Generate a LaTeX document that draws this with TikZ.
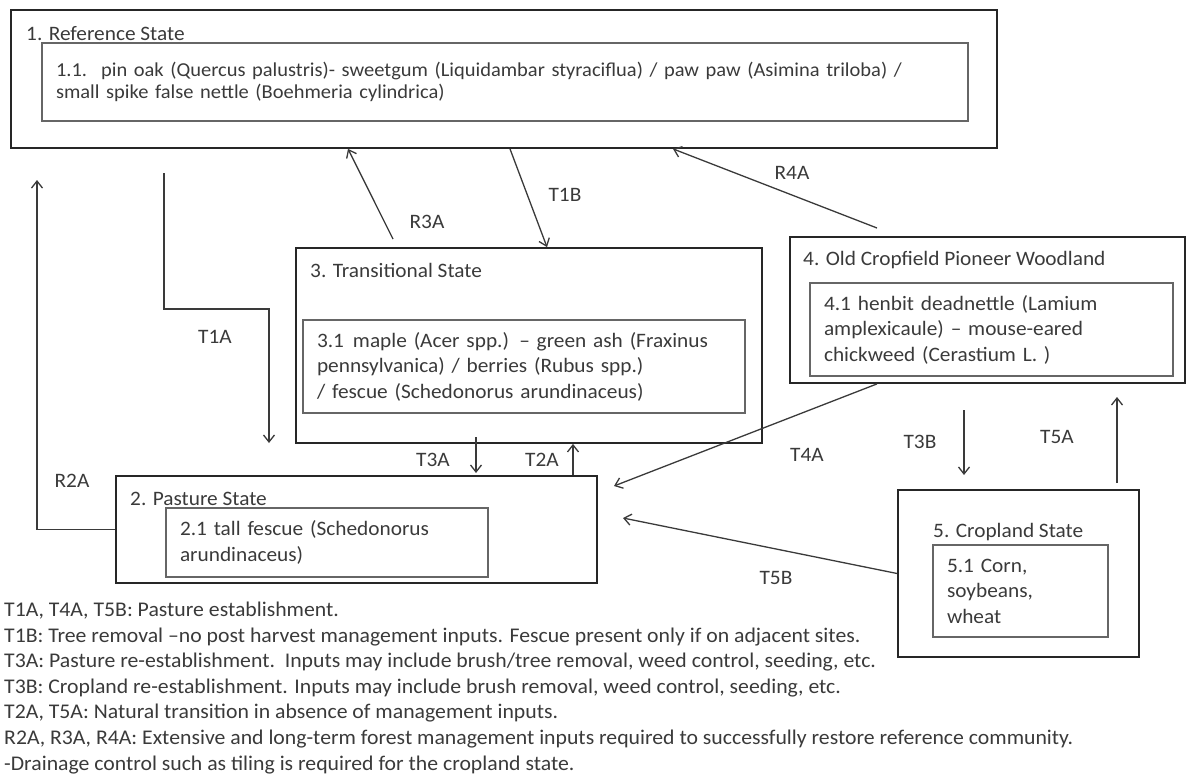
\documentclass[tikz,border=0pt]{standalone}
\usepackage{fontspec}
\setmainfont{Carlito}[FakeStretch=1.04]
\usepackage{tikz}
\usetikzlibrary{arrows.meta,positioning,calc}
\definecolor{ink}{HTML}{3A3A3A}
\newcommand{\txt}{\fontsize{20.5}{25.5}\selectfont}
\tikzset{
  outer/.style={draw=black!85, line width=1.8pt, inner sep=0pt},
  inner/.style={draw=black!60, line width=1.4pt, inner xsep=14pt, inner ysep=0pt,
    align=left, text=ink, font=\txt},
  ttl/.style={text=ink, font=\txt, inner sep=0pt, anchor=base west},
  lbl/.style={text=ink, font=\txt, inner sep=0pt},
  flow/.style={-{Straight Barb[length=7pt,width=11pt]}, line width=1.3pt, draw=ink}
}

\begin{document}
\begin{tikzpicture}[x=1pt, y=-1pt]
  \useasboundingbox (0,0) rectangle (1189,779);

  % states
  \node[outer, minimum width=986pt, minimum height=138pt] (ref) at (504,79) {};
  \node[ttl] (refT) at (26,40) {1. Reference State};
  \node[inner, text width=898pt, minimum height=78pt, font=\fontsize{19.7}{22.5}\selectfont] (refC) at (505,82)
    {1.1.\hspace{14pt}pin oak (Quercus palustris)- sweetgum (Liquidambar styraciflua) / paw paw (Asimina triloba) /\\small spike false nettle (Boehmeria cylindrica)};

  \node[outer, minimum width=466pt, minimum height=195pt] (trans) at (529,345.5) {};
  \node[ttl] (transT) at (310,277) {3. Transitional State};
  \node[inner, text width=414pt, minimum height=93pt] (transC) at (524,366.5)
    {3.1\hspace{9pt}maple (Acer spp.) -- green ash (Fraxinus\\pennsylvanica) / berries (Rubus spp.)\\/ fescue (Schedonorus arundinaceus)};

  \node[outer, minimum width=395pt, minimum height=146pt] (old) at (987.5,310) {};
  \node[ttl] (oldT) at (803,265) {4. Old Cropfield Pioneer Woodland};
  \node[inner, text width=335pt, minimum height=93pt] (oldC) at (991.5,329.5)
    {4.1 henbit deadnettle (Lamium\\amplexicaule) -- mouse-eared\\chickweed (Cerastium L. )};

  \node[outer, minimum width=481pt, minimum height=107pt] (past) at (356.5,529.5) {};
  \node[ttl] (pastT) at (130,505) {2. Pasture State};
  \node[inner, text width=294pt, minimum height=69pt] (pastC) at (327,542.5)
    {2.1 tall fescue (Schedonorus\\arundinaceus)};

  \node[outer, minimum width=241pt, minimum height=167pt] (crop) at (1018.5,573.5) {};
  \node[ttl] (cropT) at (933,537) {5. Cropland State};
  \node[inner, text width=147pt, minimum height=92pt] (cropC) at (1020.5,591)
    {5.1 Corn,\\soybeans,\\wheat};

  % free ends
  \coordinate (r2e) at (37,180);
  \coordinate (t1s) at (164,173);
  \coordinate (t1e) at (269,443);
  \coordinate (r3s) at (393,239);
  \coordinate (r4s) at (877,228);
  \coordinate (t4e) at (614,486);
  \coordinate (t5be) at (623,518);
  \coordinate (t3bs) at (964,410);
  \coordinate (t3be) at (964,475);
  \coordinate (t5as) at (1117,483);
  \coordinate (t5ae) at (1117,397);
  \coordinate (t3as) at (476,437);
  \coordinate (t3ae) at (476,473);

  % transitions
  \draw[flow] (past.west) -| (r2e);
  \draw[flow] (t1s) -- (164,309) -| (t1e);
  \draw[flow] (r3s) -- (348,0 |- ref.south);
  \draw[flow] (510,0 |- ref.south) -- (547,0 |- trans.north);
  \draw[flow] (r4s) -- (673,0 |- ref.south);
  \draw[flow] (877,0 |- old.south) -- (t4e);
  \draw[flow] (crop.west) -- (t5be);
  \draw[flow] (t3bs) -- (t3be);
  \draw[flow] (t5as) -- (t5ae);
  \draw[flow] (t3as) -- (t3ae);
  \draw[flow] (573,0 |- past.north) -- (573,0 |- trans.south);

  \node[lbl] (lT1A) at (215,337) {T1A};
  \node[lbl] (lR2A) at (72,481) {R2A};
  \node[lbl] (lR3A) at (427,222) {R3A};
  \node[lbl] (lT1B) at (565,195) {T1B};
  \node[lbl] (lR4A) at (792,173) {R4A};
  \node[lbl] (lT4A) at (807,455) {T4A};
  \node[lbl] (lT3B) at (920,442) {T3B};
  \node[lbl] (lT5A) at (1057,437) {T5A};
  \node[lbl] (lT5B) at (776,578) {T5B};
  \node[lbl] (lT3A) at (433,460) {T3A};
  \node[lbl] (lT2A) at (542,460) {T2A};

  % legend
  \node[ttl, align=left, font=\fontsize{20.9}{25.6}\selectfont] (legend) at (4,770)
    {T1A, T4A, T5B: Pasture establishment.\\
     T1B: Tree removal --no post harvest management inputs. Fescue present only if on adjacent sites.\\
     T3A: Pasture re-establishment.\ \ Inputs may include brush/tree removal, weed control, seeding, etc.\\
     T3B: Cropland re-establishment. Inputs may include brush removal, weed control, seeding, etc.\\
     T2A, T5A: Natural transition in absence of management inputs.\\
     R2A, R3A, R4A: Extensive and long-term forest management inputs required to successfully restore reference community.\\
     -Drainage control such as tiling is required for the cropland state.};
\end{tikzpicture}
\end{document}
